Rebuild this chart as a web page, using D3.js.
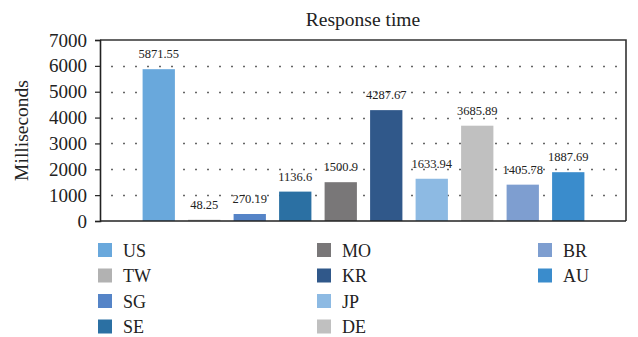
<!DOCTYPE html>
<html>
<head>
<meta charset="utf-8">
<script src="https://cdn.jsdelivr.net/npm/d3@7"></script>
<style>
  html, body { margin: 0; padding: 0; background: #fff; }
  svg { display: block; }
  text { font-family: "Liberation Serif", "DejaVu Serif", serif; fill: #222; }
</style>
</head>
<body>
<svg id="chart" width="638" height="337"></svg>
<script>
// Response time per region, in milliseconds
const regions = ["US", "TW", "SG", "SE", "MO", "KR", "JP", "DE", "BR", "AU"];
const responseMs = [5871.55, 48.25, 270.19, 1136.6, 1500.9, 4287.67, 1633.94, 3685.89, 1405.78, 1887.69];
const valueLabels = ["5871.55", "48.25", "270.19", "1136.6", "1500.9", "4287.67", "1633.94", "3685.89", "1405.78", "1887.69"];
const barColors = ["#69a8dc", "#b2b2b2", "#5584c7", "#2b70a3", "#797778", "#30588a", "#8dbae3", "#c0c0c0", "#7e9ed0", "#3a8ccc"];
const yTicks = [0, 1000, 2000, 3000, 4000, 5000, 6000, 7000];

const svg = d3.select("#chart");
const plot = { left: 100, right: 626, top: 40, bottom: 221 };

const x = d3.scaleBand()
  .domain(regions)
  .range([136, 591])
  .paddingInner(0.29)
  .paddingOuter(0.145);

const y = d3.scaleLinear()
  .domain([0, 7000])
  .range([plot.bottom, plot.top]);

// Title
svg.append("text")
  .attr("x", 363).attr("y", 26)
  .attr("text-anchor", "middle")
  .attr("font-size", 19.5)
  .text("Response time");

// Frame (top and right)
svg.append("path")
  .attr("d", `M${plot.left},${plot.top}H${plot.right}V${plot.bottom}`)
  .attr("fill", "none")
  .attr("stroke", "#333")
  .attr("stroke-width", 1.6);

// Dotted gridlines
svg.append("g")
  .selectAll("line")
  .data(yTicks.filter(t => t > 0 && t < 7000))
  .join("line")
  .attr("x1", plot.left + 11)
  .attr("x2", plot.right - 6)
  .attr("y1", d => Math.round(y(d)) + 0.5)
  .attr("y2", d => Math.round(y(d)) + 0.5)
  .attr("stroke", "#666")
  .attr("stroke-width", 1.7)
  .attr("stroke-dasharray", "2,10");

// Bars
svg.append("g")
  .selectAll("rect")
  .data(regions)
  .join("rect")
  .attr("x", d => x(d))
  .attr("width", x.bandwidth())
  .attr("y", (d, i) => y(responseMs[i]))
  .attr("height", (d, i) => plot.bottom - y(responseMs[i]))
  .attr("fill", (d, i) => barColors[i]);

// Value labels
svg.append("g")
  .selectAll("text")
  .data(regions)
  .join("text")
  .attr("x", d => x(d) + x.bandwidth() / 2)
  .attr("y", (d, i) => y(responseMs[i]) - 11)
  .attr("text-anchor", "middle")
  .attr("font-size", 12.5)
  .attr("fill", "#333")
  .text((d, i) => valueLabels[i]);

// Y axis
const yAxis = d3.axisLeft(y)
  .tickValues(yTicks)
  .tickSize(5)
  .tickPadding(8)
  .tickFormat(d3.format("d"));

const yg = svg.append("g")
  .attr("transform", `translate(${plot.left},0)`)
  .call(yAxis);
yg.select(".domain").attr("stroke", "#222").attr("stroke-width", 1.6);
yg.selectAll(".tick line").attr("stroke", "#222").attr("stroke-width", 1.2);
yg.selectAll(".tick text")
  .attr("font-family", "Liberation Serif, serif")
  .attr("font-size", 19)
  .attr("fill", "#222");

// X baseline
svg.append("line")
  .attr("x1", plot.left).attr("x2", plot.right)
  .attr("y1", plot.bottom).attr("y2", plot.bottom)
  .attr("stroke", "#222")
  .attr("stroke-width", 1.6);

// Y axis title
svg.append("text")
  .attr("transform", `translate(28,${(plot.top + plot.bottom) / 2}) rotate(-90)`)
  .attr("text-anchor", "middle")
  .attr("font-size", 19.5)
  .text("Milliseconds");

// Legend: three columns, four rows
const legendCols = [98, 317, 538];
const legendRowY = 250;
const legendRowStep = 25.5;
const legend = svg.append("g")
  .selectAll("g")
  .data(regions)
  .join("g")
  .attr("transform", (d, i) => `translate(${legendCols[Math.floor(i / 4)]},${legendRowY + (i % 4) * legendRowStep})`);
legend.append("rect")
  .attr("x", 0).attr("y", -7)
  .attr("width", 14).attr("height", 14)
  .attr("fill", (d, i) => barColors[i]);
legend.append("text")
  .attr("x", 25).attr("y", 6.5)
  .attr("font-size", 18)
  .text(d => d);
</script>
</body>
</html>
